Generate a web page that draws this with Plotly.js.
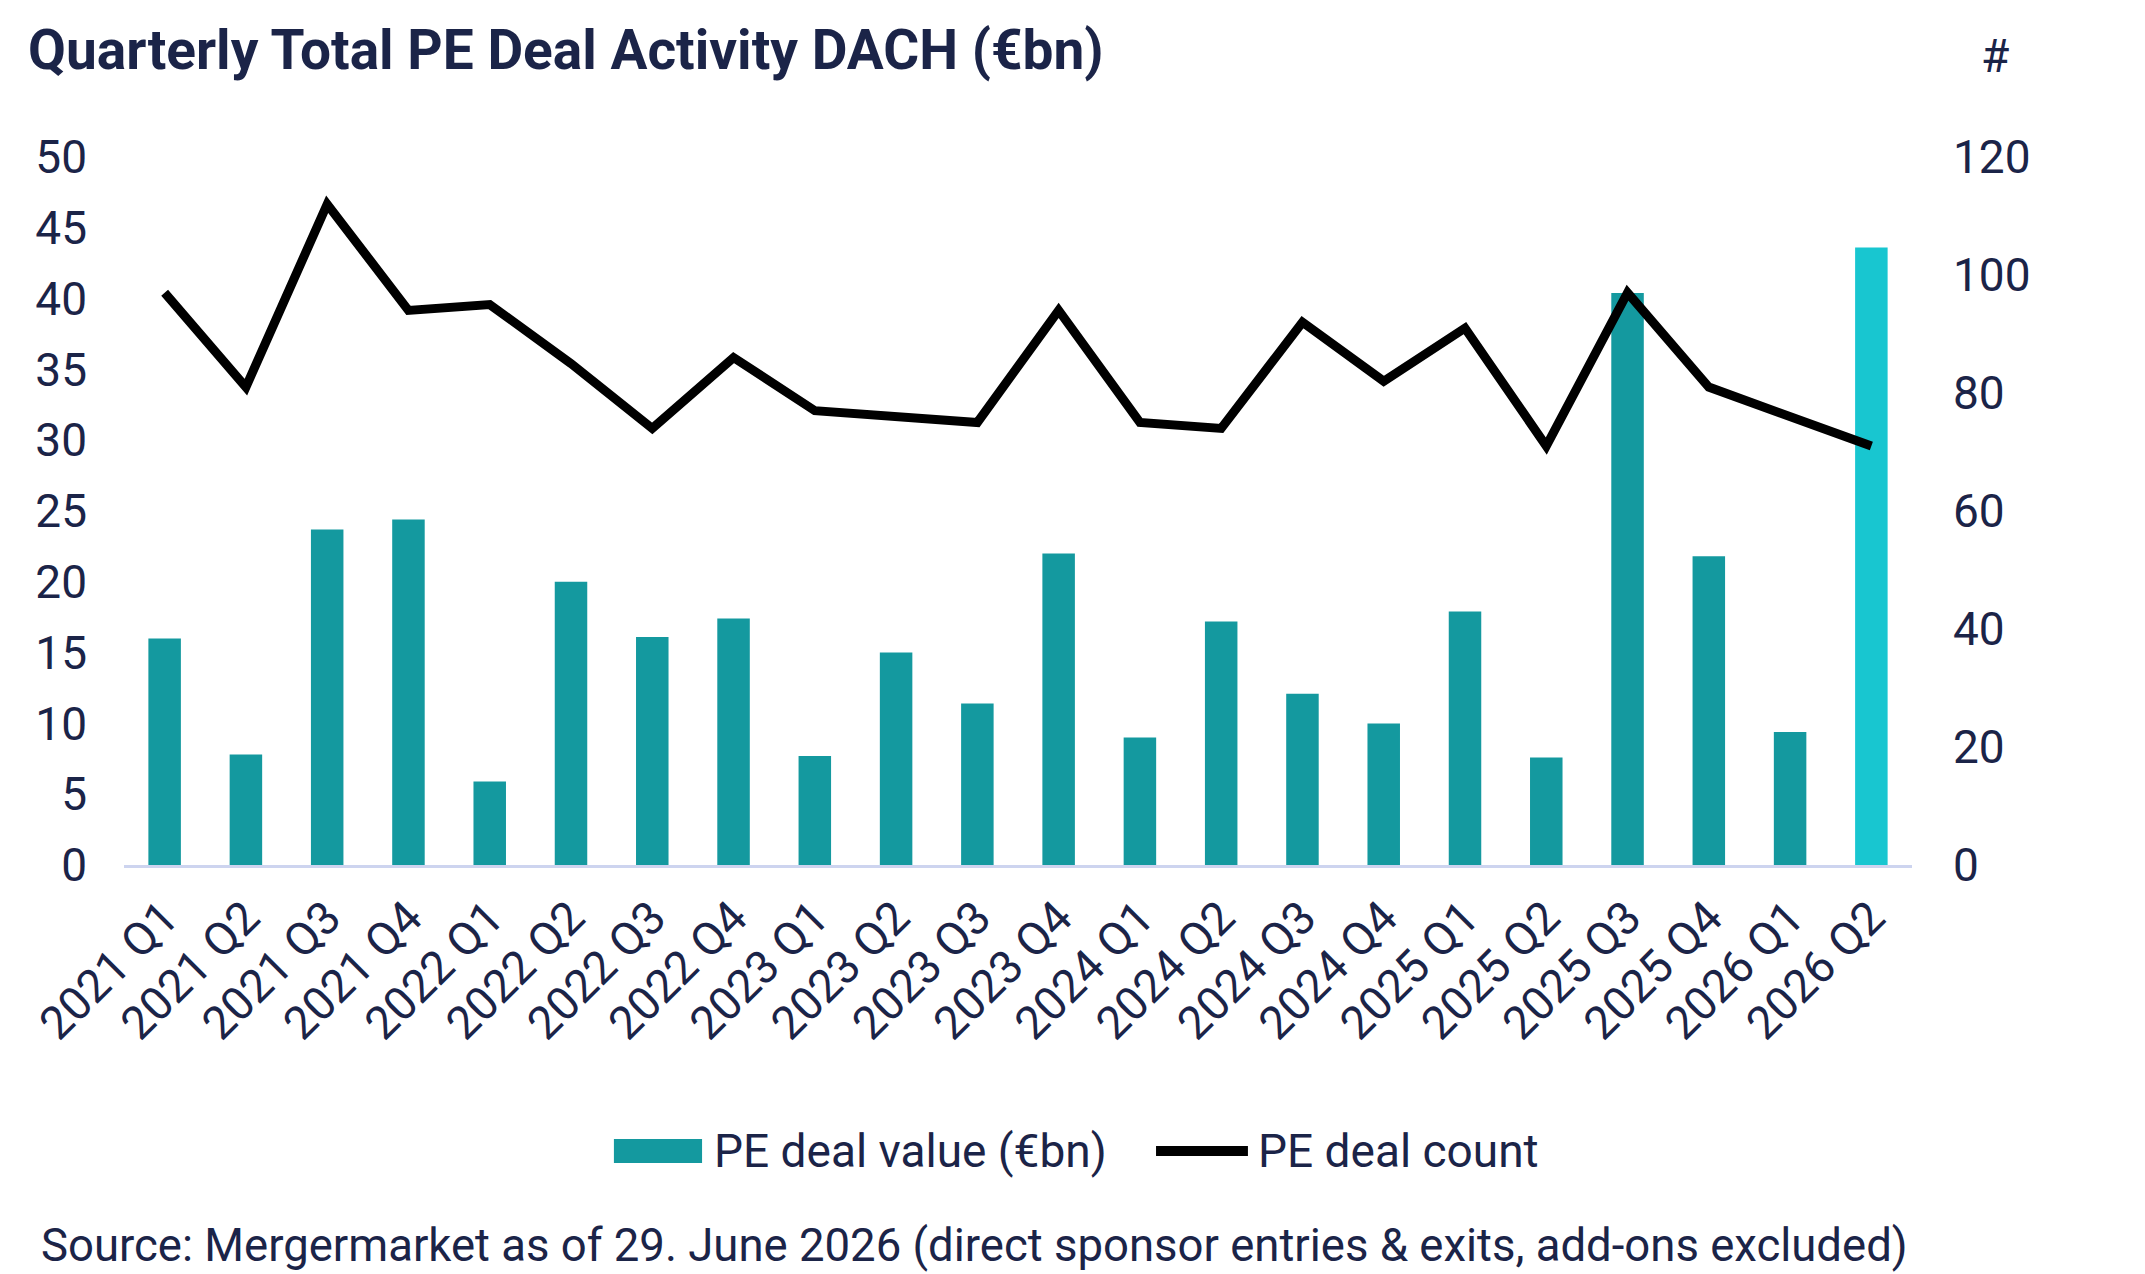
<!DOCTYPE html>
<html>
<head>
<meta charset="utf-8">
<script src="https://cdn.plot.ly/plotly-3.0.1.min.js"></script>
<style>
  html, body { margin: 0; padding: 0; background: #ffffff; }
  #chart { width: 2145px; height: 1274px; }
</style>
</head>
<body>
<div id="chart"></div>
<script>
// quarters on the x axis
var quarters = [
    "2021 Q1", "2021 Q2", "2021 Q3", "2021 Q4",
    "2022 Q1", "2022 Q2", "2022 Q3", "2022 Q4",
    "2023 Q1", "2023 Q2", "2023 Q3", "2023 Q4",
    "2024 Q1", "2024 Q2", "2024 Q3", "2024 Q4",
    "2025 Q1", "2025 Q2", "2025 Q3", "2025 Q4",
    "2026 Q1", "2026 Q2"
];

// PE deal value in €bn (left axis)
var dealValue = [
    16.0, 7.8, 23.7, 24.4,
    5.9, 20.0, 16.1, 17.4,
    7.7, 15.0, 11.4, 22.0,
    9.0, 17.2, 12.1, 10.0,
    17.9, 7.6, 40.4, 21.8,
    9.4, 43.6
];

// PE deal count (right axis)
var dealCount = [
    97, 81, 112, 94,
    95, 85, 74, 86,
    77, 76, 75, 94,
    75, 74, 92, 82,
    91, 71, 97, 81,
    76, 71
];

var leftTicks = [0, 5, 10, 15, 20, 25, 30, 35, 40, 45, 50];
var rightTicks = [0, 20, 40, 60, 80, 100, 120];

var navy = "#1b2448";
var teal = "#14999f";
var tealLight = "#18c6d0";

// last quarter (current, incomplete) is highlighted
var barColors = quarters.map(function (q, i) {
    return i === quarters.length - 1 ? tealLight : teal;
});

var bars = {
    type: "bar",
    x: quarters,
    y: dealValue,
    name: "PE deal value (€bn)",
    marker: { color: barColors },
    yaxis: "y",
    hoverinfo: "skip"
};

var countLine = {
    type: "scatter",
    mode: "lines",
    x: quarters,
    y: dealCount,
    name: "PE deal count",
    line: { color: "#000000", width: 9 },
    yaxis: "y2",
    hoverinfo: "skip"
};

var family = "Roboto, Arial, sans-serif";

var layout = {
    width: 2145,
    height: 1274,
    paper_bgcolor: "#ffffff",
    plot_bgcolor: "#ffffff",
    margin: { l: 124, r: 233, t: 157, b: 409 },
    showlegend: false,
    bargap: 0.6,
    hovermode: false,
    font: { family: family, color: navy, size: 46 },
    title: {
        text: "Quarterly Total PE Deal Activity DACH (€bn)",
        font: { family: family, size: 55, color: navy, weight: "bold" },
        xref: "container",
        x: 28 / 2145,
        xanchor: "left",
        yref: "container",
        y: 1 - 50 / 1274,
        yanchor: "middle"
    },
    xaxis: {
        type: "category",
        tickangle: -45,
        showgrid: false,
        zeroline: false,
        showline: true,
        linecolor: "#cdd4ef",
        linewidth: 3,
        ticks: "",
        tickfont: { family: family, size: 46, color: navy },
        ticklabelstandoff: 4
    },
    yaxis: {
        range: [0, 50],
        tickvals: leftTicks,
        showgrid: false,
        zeroline: false,
        showline: false,
        ticks: "",
        tickfont: { family: family, size: 46, color: navy },
        ticklabelstandoff: 36
    },
    yaxis2: {
        range: [0, 120],
        tickvals: rightTicks,
        overlaying: "y",
        side: "right",
        showgrid: false,
        zeroline: false,
        showline: false,
        ticks: "",
        tickfont: { family: family, size: 46, color: navy },
        ticklabelstandoff: 40
    },
    shapes: [
        // legend key for the bars
        {
            type: "rect", xref: "paper", yref: "paper",
            x0: 0.274, x1: 0.3233, y0: -0.387, y1: -0.4209,
            fillcolor: teal, line: { width: 0 }
        },
        // legend key for the line
        {
            type: "line", xref: "paper", yref: "paper",
            x0: 0.5772, x1: 0.6286, y0: -0.404, y1: -0.404,
            line: { color: "#000000", width: 10 }
        }
    ],
    annotations: [
        {
            text: "PE deal value (€bn)", xref: "paper", yref: "paper",
            x: 0.3289, y: -0.404, xanchor: "left", yanchor: "middle",
            showarrow: false, font: { family: family, size: 46, color: navy }
        },
        {
            text: "PE deal count", xref: "paper", yref: "paper",
            x: 0.6331, y: -0.404, xanchor: "left", yanchor: "middle",
            showarrow: false, font: { family: family, size: 46, color: navy }
        },
        {
            text: "#", xref: "paper", yref: "paper",
            x: 1.0464, y: 1.1427, xanchor: "center", yanchor: "middle",
            showarrow: false, font: { family: family, size: 46, color: navy }
        },
        {
            text: "Source: Mergermarket as of 29. June 2026 (direct sponsor entries & exits, add-ons excluded)",
            xref: "paper", yref: "paper",
            x: -0.047, y: -0.537, xanchor: "left", yanchor: "middle",
            borderpad: 0,
            showarrow: false, font: { family: family, size: 45.5, color: navy }
        }
    ]
};

Plotly.newPlot("chart", [bars, countLine], layout, { displayModeBar: false, staticPlot: true });
</script>
</body>
</html>
